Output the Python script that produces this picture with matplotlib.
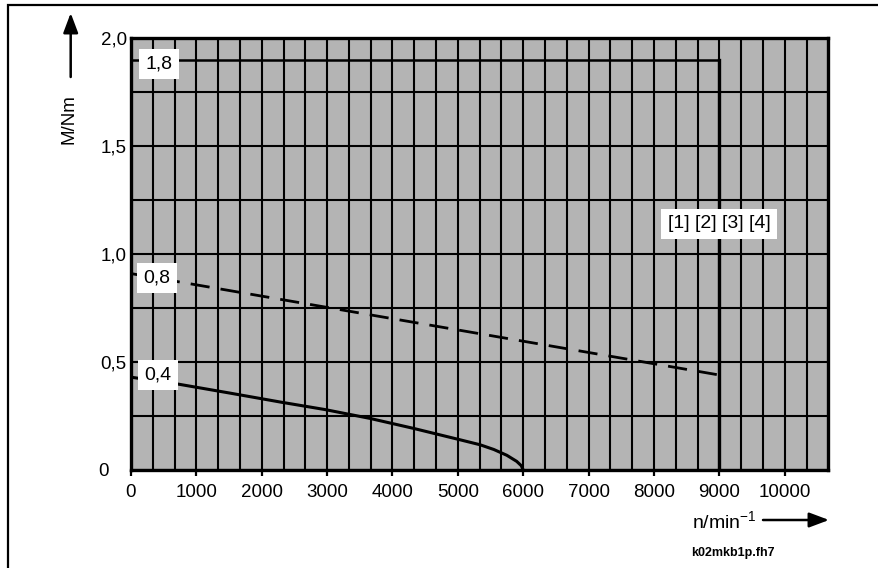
import numpy as np
import matplotlib
matplotlib.use('Agg')
from matplotlib import pyplot as plt
from matplotlib.patches import Rectangle

plt.rcParams['font.family'] = ['Liberation Sans', 'DejaVu Sans']
plt.rcParams['mathtext.default'] = 'regular'

# data
x_ticks = [0, 1000, 2000, 3000, 4000, 5000, 6000, 7000, 8000, 9000, 10000]
y_ticks = [0, 0.5, 1.0, 1.5, 2.0]
y_ticklabels = ['', '0,5', '1,0', '1,5', '2,0']

n_max = 9000
m_top = 1.9                       # curve labelled "1,8"
dash_n = [0, 9000]                # curve labelled "0,8"
dash_m = [0.91, 0.44]
low_n = [0, 720, 1500, 2300, 2968, 3656, 4319, 5007, 5339, 5550, 5750, 5900, 5970, 6000]   # curve "0,4"
low_m = [0.43, 0.398, 0.357, 0.314, 0.28, 0.239, 0.193, 0.142, 0.117, 0.095, 0.068, 0.04, 0.02, 0.0]

W, H = 879, 568
fig = plt.figure(figsize=(W / 100, H / 100), dpi=100)

def fx(x):
    return x / W

def fy(y):
    return 1 - y / H

ax = fig.add_axes([fx(131), fy(470), fx(828.3) - fx(131), fy(38.3) - fy(470)])
ax.set_facecolor('#b4b4b4')
ax.set_xlim(0, 32 * 1000 / 3)
ax.set_ylim(0, 2.0)

ax.set_xticks(x_ticks)
ax.set_xticklabels([str(v) for v in x_ticks], fontsize=13.5)
ax.set_xticks(np.arange(0, 32) * 1000 / 3, minor=True)
ax.set_yticks(y_ticks)
ax.set_yticklabels(y_ticklabels, fontsize=13.5)
ax.set_yticks(np.arange(0, 2.01, 0.25), minor=True)
ax.tick_params(axis='x', which='major', length=4, width=1.6, pad=6, direction='out')
ax.tick_params(axis='x', which='minor', length=0)
ax.tick_params(axis='y', which='both', length=0, pad=3)
ax.grid(which='both', color='black', linewidth=1.5)
ax.set_axisbelow(True)
for s in ax.spines.values():
    s.set_linewidth(2.4)

# curves
ax.plot([0, n_max], [m_top, m_top], color='black', linewidth=1.8)
ax.plot([n_max, n_max], [0, m_top], color='black', linewidth=2.4)
ax.plot(dash_n, dash_m, color='black', linewidth=2.0, dashes=(6.9, 4.0))
ax.plot(low_n, low_m, color='black', linewidth=2.2)

box = dict(boxstyle='square,pad=0.32', facecolor='white', edgecolor='none')
fig.text(fx(159), fy(64), '1,8', fontsize=14, ha='center', va='center', bbox=box)
fig.text(fx(157), fy(278), '0,8', fontsize=14, ha='center', va='center', bbox=box)
fig.text(fx(158), fy(375), '0,4', fontsize=14, ha='center', va='center', bbox=box)
fig.text(fx(719), fy(224), '[1] [2] [3] [4]', fontsize=14, ha='center', va='center', bbox=box)

# y "0" label sits apart from the others
fig.text(fx(104), fy(471), '0', fontsize=13.5, ha='center', va='center')

# axis titles with arrows
fig.text(fx(69), fy(119), 'M/Nm', fontsize=13.5, rotation=90, ha='center', va='center')
plt.annotate('', xy=(70.7, H - 13), xytext=(70.7, H - 77), xycoords='figure pixels',
             textcoords='figure pixels',
             arrowprops=dict(arrowstyle='-|>,head_length=1.2,head_width=0.45', color='black',
                             linewidth=1.8, shrinkA=0, shrinkB=0))
fig.text(fx(757), fy(521), 'n/min$^{-1}$', fontsize=14, ha='right', va='center')
plt.annotate('', xy=(829, H - 520), xytext=(763, H - 520), xycoords='figure pixels',
             textcoords='figure pixels',
             arrowprops=dict(arrowstyle='-|>,head_length=1.2,head_width=0.45', color='black',
                             linewidth=1.8, shrinkA=0, shrinkB=0))
fig.text(fx(733), fy(553), 'k02mkb1p.fh7', fontsize=9, fontweight='bold', ha='center', va='center')

# outer frame (cut at right and bottom)
fig.add_artist(Rectangle((fx(8), fy(H + 20)), fx(W + 40) - fx(8), fy(5) - fy(H + 20),
                         transform=fig.transFigure, fill=False, edgecolor='black',
                         linewidth=1.6, clip_on=False))

fig.savefig('out.png', dpi=100)
